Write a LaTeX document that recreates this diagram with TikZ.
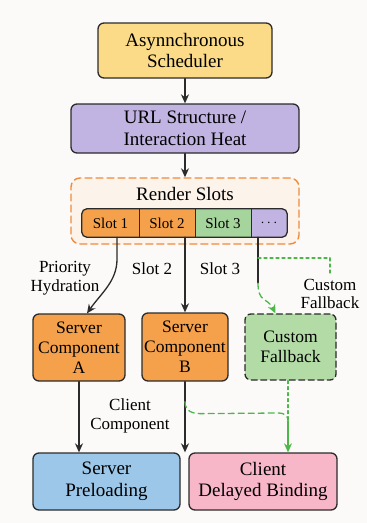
\documentclass[tikz,border=0pt]{standalone}
\usepackage{fontspec}
\setmainfont{Liberation Serif}
\usetikzlibrary{arrows.meta}
\definecolor{paper}{HTML}{FBFAF8}
\definecolor{boxline}{HTML}{2B2B2B}
\definecolor{schedyellow}{HTML}{FBDB87}
\definecolor{urlpurple}{HTML}{C2B4E2}
\definecolor{slotorange}{HTML}{F5A14C}
\definecolor{slotgreen}{HTML}{A5D49C}
\definecolor{framepeach}{HTML}{FCF3EA}
\definecolor{frameorange}{HTML}{F08A3C}
\definecolor{fallgreen}{HTML}{B3DBA6}
\definecolor{flowgreen}{HTML}{4DB849}
\definecolor{preblue}{HTML}{9DC7E8}
\definecolor{bindpink}{HTML}{F8B6C9}
\begin{document}
\begin{tikzpicture}[x=1pt,y=-1pt,>={Stealth[length=9pt,width=8pt]}, line join=round, line cap=round,
    box/.style={draw=boxline,line width=1.3pt,rounded corners=6pt,align=center,inner sep=0pt,
                font=\fontsize{19}{21.5}\selectfont},
    comp/.style={box,font=\fontsize{17.5}{20}\selectfont},
    lbl/.style={align=center,font=\fontsize{17}{18.5}\selectfont},
    slotcell/.style={minimum height=28,inner sep=0pt,font=\fontsize{15}{17}\selectfont},
    flow/.style={->,line width=1.3pt,draw=boxline},
    greenflow/.style={line width=1.3pt,draw=flowgreen,dash pattern=on 6pt off 4pt}]
    \useasboundingbox[fill=paper] (0,0) rectangle (367,523);
    % top of the chain
    \node[box,fill=schedyellow,minimum width=174,minimum height=55] (sched) at (185,50.5) {Asynnchronous\\Scheduler};
    \node[box,fill=urlpurple,minimum width=228,minimum height=49] (url) at (185,128.5) {URL Structure /\\Interaction Heat};
    \node[draw=frameorange,fill=framepeach,line width=1.4pt,dash pattern=on 7pt off 4pt,rounded corners=9pt,
          minimum width=228,minimum height=66,inner sep=0pt] (render) at (185,211) {};
    \node[font=\fontsize{19}{21.5}\selectfont] (rtitle) at (185,194) {Render Slots};
    % slot row
    \begin{scope}
        \clip[rounded corners=5pt] (82,209) rectangle (287,237);
        \foreach \n/\cx/\w/\c/\t in {s1/110.5/57/slotorange/Slot 1,s2/167/56/slotorange/Slot 2,
                                      s3/223/56/slotgreen/Slot 3,s4/269/36/urlpurple/$\cdots$}
            \node[slotcell,fill=\c,minimum width=\w] (\n) at (\cx,223) {\t};
    \end{scope}
    \foreach \n in {s1,s2,s3}
        \draw[boxline,line width=1.1pt] (\n.north east) -- (\n.south east);
    \draw[boxline,line width=1.3pt,rounded corners=5pt] (s1.north west) rectangle (s4.south east);
    % components
    \node[comp,fill=slotorange,minimum width=92,minimum height=67] (compA) at (79,347.5) {Server\\Component\\A};
    \node[comp,fill=slotorange,minimum width=86,minimum height=68] (compB) at (185,347) {Server\\Component\\B};
    \node[comp,fill=fallgreen,dash pattern=on 6pt off 3.5pt,minimum width=91,minimum height=66] (fall) at (290.5,347) {Custom\\Fallback};
    % results
    \node[box,fill=preblue,minimum width=147,minimum height=57] (preload) at (106.5,481.5) {Server\\Preloading};
    \node[box,fill=bindpink,minimum width=148,minimum height=57] (bind) at (263,481.5) {Client\\Delayed Binding};
    % labels
    \node[lbl] (prio) at (65,278) {Priority\\Hydration};
    \node[lbl] (l2) at (152,269) {Slot 2};
    \node[lbl] (l3) at (220,269) {Slot 3};
    \node[lbl] (fblabel) at (330,294) {Custom\\Fallback};
    \node[lbl] (client) at (130,416) {Client\\Component};
    \coordinate (tap) at (258,258);
    \coordinate (fork) at (258,283);
    \coordinate (merge) at (288,421);
    % connectors
    \draw[flow] (sched) -- (url);
    \draw[flow] (url) -- (render);
    \draw[flow] ([xshift=6.5]s1.south) -- ++(0,22) .. controls +(0,22) and +(14,-20) .. ([xshift=8]compA.north);
    \draw[flow] (s2.south -| compB.north) -- (compB.north);
    \draw[boxline,line width=1.3pt] (s4.south -| fork) -- (fork);
    \draw[greenflow,-{Stealth[length=9pt,width=8pt]}] (fork) .. controls +(0,20) and +(-8,-16) .. ([xshift=-15]fall.north);
    \draw[flowgreen,line width=1.3pt,dash pattern=on 3pt off 3pt] (tap) -| (fblabel.north);
    \draw[flow] (compA.south) -- (compA.south |- preload.north);
    \draw[flow] (compB.south) -- (compB.south |- preload.north);
    \draw[greenflow] ([yshift=-20]compB.south) .. controls +(0,10) and +(-8,0) .. ++(16,12) -- (278,413) .. controls +(8,0) and +(0,-4) .. (merge);
    \draw[flowgreen,line width=1.3pt,dash pattern=on 3pt off 3pt] (fall.south -| merge) -- (merge);
    \draw[flowgreen,line width=1.3pt,-{Stealth[length=9pt,width=8pt]}] (merge) -- (merge |- bind.north);
\end{tikzpicture}
\end{document}
